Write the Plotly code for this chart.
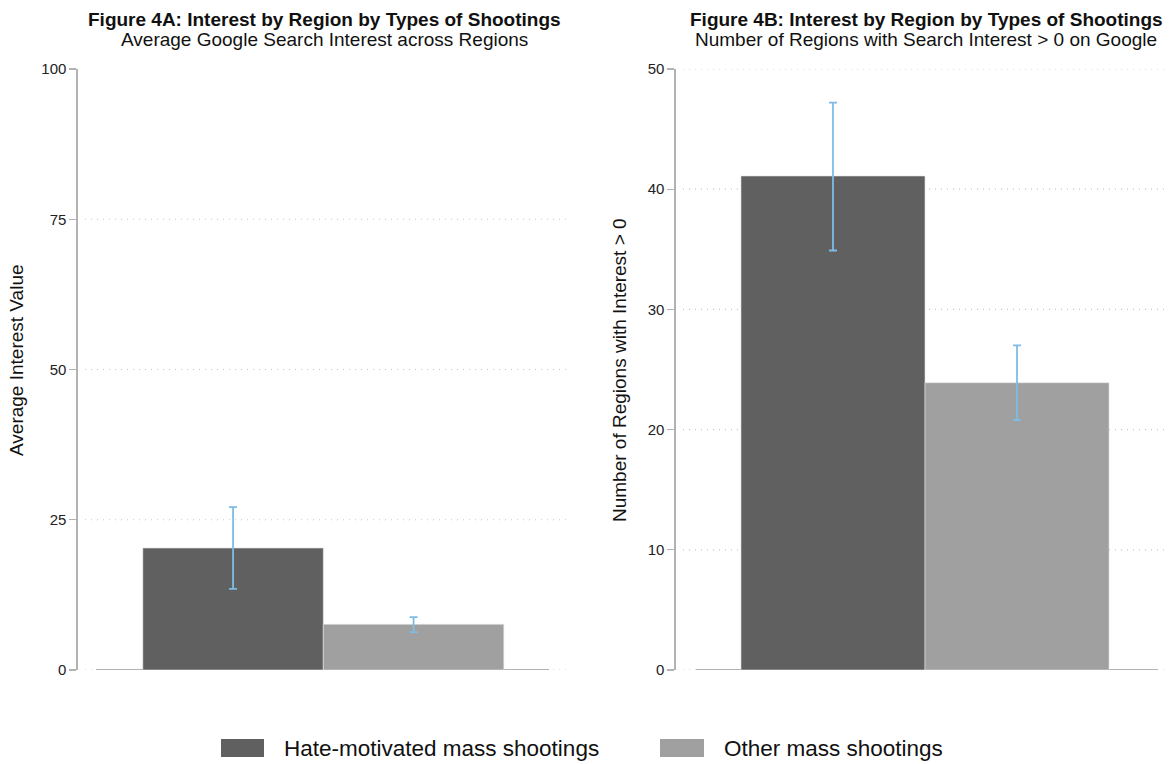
import plotly.graph_objects as go

# ---------------- data ----------------
categories = ["Hate-motivated mass shootings", "Other mass shootings"]

avg_interest = [20.3, 7.6]
avg_interest_low = [13.5, 6.3]
avg_interest_high = [27.1, 8.8]

regions_pos = [41.1, 23.9]
regions_pos_low = [34.9, 20.8]
regions_pos_high = [47.2, 27.0]

ticks_a = [0, 25, 50, 75, 100]
ticks_b = [0, 10, 20, 30, 40, 50]
grid_a = [0, 25, 50, 75]
grid_b = [0, 10, 20, 30, 40, 50]

title_a = "Figure 4A: Interest by Region by Types of Shootings"
subtitle_a = "Average Google Search Interest across Regions"
title_b = "Figure 4B: Interest by Region by Types of Shootings"
subtitle_b = "Number of Regions with Search Interest > 0 on Google"
ytitle_a = "Average Interest Value"
ytitle_b = "Number of Regions with Interest > 0"

# ---------------- style ----------------
W, H = 1169, 764
FONT = "Liberation Sans, Arial, Helvetica, sans-serif"
bar_colors = ["#606060", "#a0a0a0"]
err_color = "#80bbe6"
axis_color = "#b2b2b2"
grid_color = "#c4c4c4"


def px(x):
    return x / W


def py(y):
    return 1 - y / H


fig = go.Figure()

fig.add_trace(go.Bar(
    x=categories, y=avg_interest, xaxis="x", yaxis="y",
    marker=dict(color=bar_colors, line=dict(color="#e6e6e6", width=0.6)),
    error_y=dict(type="data",
                 array=[h - v for h, v in zip(avg_interest_high, avg_interest)],
                 arrayminus=[v - l for v, l in zip(avg_interest, avg_interest_low)],
                 color=err_color, thickness=1.8, width=4),
    showlegend=False, hoverinfo="skip"))

fig.add_trace(go.Bar(
    x=categories, y=regions_pos, xaxis="x2", yaxis="y2",
    marker=dict(color=bar_colors, line=dict(color="#e6e6e6", width=0.6)),
    error_y=dict(type="data",
                 array=[h - v for h, v in zip(regions_pos_high, regions_pos)],
                 arrayminus=[v - l for v, l in zip(regions_pos, regions_pos_low)],
                 color=err_color, thickness=1.8, width=4),
    showlegend=False, hoverinfo="skip"))

yaxis_common = dict(
    showline=True, linecolor=axis_color, linewidth=1.6,
    ticks="outside", ticklen=7, tickwidth=1.4, tickcolor=axis_color,
    showgrid=False, zeroline=False, fixedrange=True, automargin=False,
    tickfont=dict(family=FONT, size=15, color="#222222"),
)

fig.update_layout(
    width=W, height=H,
    margin=dict(l=0, r=0, t=0, b=0, pad=0, autoexpand=False),
    paper_bgcolor="white", plot_bgcolor="white",
    bargap=0,
    showlegend=False,
    font=dict(family=FONT, color="#111111"),
    xaxis=dict(domain=[px(78), px(567)], range=[-0.859, 1.850], visible=False,
               fixedrange=True, automargin=False),
    yaxis=dict(domain=[py(670), py(69)], range=[0, 100], tickvals=ticks_a, **yaxis_common),
    xaxis2=dict(domain=[px(676), px(1165)], range=[-0.853, 1.804], visible=False,
                fixedrange=True, anchor="y2", automargin=False),
    yaxis2=dict(domain=[py(670), py(69)], range=[0, 50], tickvals=ticks_b, anchor="x2",
                **yaxis_common),
)

shapes = []
for g in grid_a:
    shapes.append(dict(type="line", xref="paper", yref="y", x0=px(85), x1=px(567), y0=g, y1=g,
                       line=dict(color=grid_color, width=1.2, dash="1px,5px"), layer="below"))
for g in grid_b:
    shapes.append(dict(type="line", xref="paper", yref="y2", x0=px(683), x1=px(1165), y0=g, y1=g,
                       line=dict(color=grid_color, width=1.2, dash="1px,5px"), layer="below"))
# category-axis baselines
shapes.append(dict(type="line", xref="paper", yref="y", x0=px(96), x1=px(549), y0=0, y1=0,
                   line=dict(color=axis_color, width=2), layer="below"))
shapes.append(dict(type="line", xref="paper", yref="y2", x0=px(696), x1=px(1158), y0=0, y1=0,
                   line=dict(color=axis_color, width=2), layer="below"))
# legend swatches
shapes.append(dict(type="rect", xref="paper", yref="paper", x0=px(221), x1=px(264),
                   y0=py(757), y1=py(739), fillcolor=bar_colors[0], line=dict(width=0)))
shapes.append(dict(type="rect", xref="paper", yref="paper", x0=px(660), x1=px(704),
                   y0=py(757), y1=py(739), fillcolor=bar_colors[1], line=dict(width=0)))
fig.update_layout(shapes=shapes)

ann = []
ann.append(dict(text="<b>" + title_a + "</b>", x=px(324), y=py(20), xref="paper", yref="paper",
                showarrow=False, xanchor="center", yanchor="middle",
                font=dict(family=FONT, size=19, color="#111111")))
ann.append(dict(text=subtitle_a, x=px(324), y=py(39), xref="paper", yref="paper",
                showarrow=False, xanchor="center", yanchor="middle",
                font=dict(family=FONT, size=19, color="#111111")))
ann.append(dict(text="<b>" + title_b + "</b>", x=px(926), y=py(20), xref="paper", yref="paper",
                showarrow=False, xanchor="center", yanchor="middle",
                font=dict(family=FONT, size=19, color="#111111")))
ann.append(dict(text=subtitle_b, x=px(926), y=py(39), xref="paper", yref="paper",
                showarrow=False, xanchor="center", yanchor="middle",
                font=dict(family=FONT, size=19, color="#111111")))
ann.append(dict(text=ytitle_a, x=px(17), y=py(360), xref="paper", yref="paper",
                showarrow=False, xanchor="center", yanchor="middle", textangle=-90,
                font=dict(family=FONT, size=19, color="#111111")))
ann.append(dict(text=ytitle_b, x=px(620), y=py(370), xref="paper", yref="paper",
                showarrow=False, xanchor="center", yanchor="middle", textangle=-90,
                font=dict(family=FONT, size=19, color="#111111")))
ann.append(dict(text=categories[0], x=px(282), y=py(748), xref="paper", yref="paper",
                showarrow=False, xanchor="left", yanchor="middle",
                font=dict(family=FONT, size=22.5, color="#111111")))
ann.append(dict(text=categories[1], x=px(722), y=py(748), xref="paper", yref="paper",
                showarrow=False, xanchor="left", yanchor="middle",
                font=dict(family=FONT, size=22.5, color="#111111")))
fig.update_layout(annotations=ann)

fig.write_html("out.html", config={"displayModeBar": False, "staticPlot": True},
               post_script="document.body.style.margin='0';document.body.style.overflow='hidden';")
